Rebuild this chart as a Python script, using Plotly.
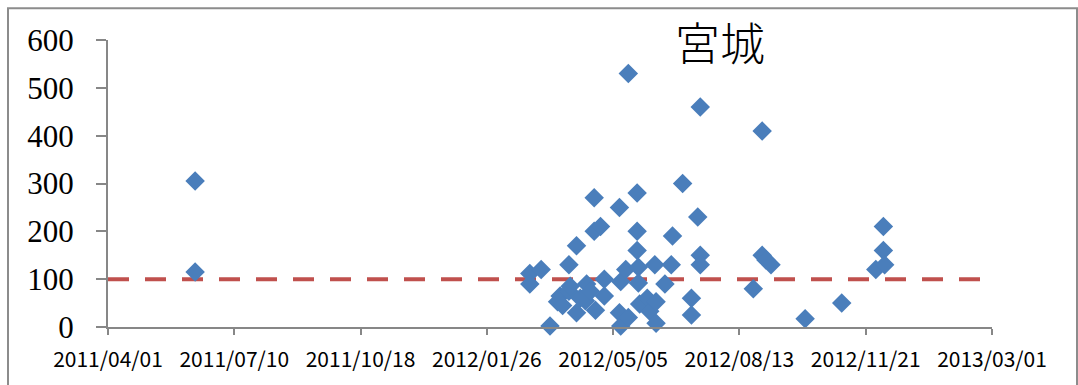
import plotly.graph_objects as go
from datetime import date, timedelta

# Sampling dates and measured values (Miyagi)
dates = [
    "2011-06-09", "2011-06-09",
    "2012-02-29", "2012-02-29", "2012-03-09", "2012-03-16", "2012-03-22",
    "2012-03-24", "2012-03-31", "2012-03-31", "2012-04-01", "2012-04-06",
    "2012-04-06", "2012-04-13", "2012-04-14", "2012-04-20", "2012-04-20",
    "2012-04-21", "2012-04-25", "2012-04-28", "2012-04-28", "2012-05-10",
    "2012-05-10", "2012-05-11", "2012-05-11", "2012-05-15", "2012-05-17",
    "2012-05-17", "2012-05-24", "2012-05-24", "2012-05-24", "2012-05-25",
    "2012-05-25", "2012-05-26", "2012-06-01", "2012-06-03", "2012-06-07",
    "2012-06-08", "2012-06-08", "2012-06-15", "2012-06-20", "2012-06-21",
    "2012-06-29", "2012-07-06", "2012-07-06", "2012-07-11", "2012-07-13",
    "2012-07-13", "2012-07-13", "2012-08-24", "2012-08-31", "2012-08-31",
    "2012-09-03", "2012-09-07", "2012-10-04", "2012-11-02", "2012-11-29",
    "2012-12-05", "2012-12-05", "2012-12-06",
    "2012-03-26", "2012-04-09", "2012-04-17",
]
values = [
    305, 115,
    112, 90, 120, 2, 53,
    65, 130, 75, 85, 170,
    30, 55, 90, 270, 200,
    35, 210, 100, 65, 250,
    30, 95, 2, 120, 530,
    20, 280, 200, 160, 125,
    92, 48, 60, 33, 130,
    53, 8, 90, 130, 190,
    300, 60, 25, 230, 150,
    130, 460, 80, 410, 150,
    140, 130, 17, 50, 120,
    210, 160, 130,
    45, 60, 75,
]

# Reference level
threshold = 100
threshold_span = ["2011-04-01", "2013-02-28"]

# Axis ticks: every 100 days from the start date
x_start = "2011-04-01"
x_end = "2013-03-01"
tick_step_days = 100
n_ticks = 8
start = date.fromisoformat(x_start)
tick_dates = [start + timedelta(days=tick_step_days * i) for i in range(n_ticks)]
tick_vals = [d.isoformat() for d in tick_dates]
tick_text = [d.strftime("%Y/%m/%d") for d in tick_dates]

y_ticks = [0, 100, 200, 300, 400, 500, 600]

title_text = "宮城"

fig = go.Figure()

fig.add_trace(go.Scatter(
    x=threshold_span,
    y=[threshold, threshold],
    mode="lines",
    line=dict(color="#C0504D", width=4, dash="21px,16px"),
    hoverinfo="skip",
    showlegend=False,
))

fig.add_trace(go.Scatter(
    x=dates,
    y=values,
    mode="markers",
    marker=dict(symbol="diamond", size=15, color="#4A7EBB", line=dict(width=0)),
    cliponaxis=False,
    showlegend=False,
))

axis_grey = "#878787"

fig.update_layout(
    width=1078,
    height=385,
    margin=dict(l=108, r=86, t=40, b=56),
    paper_bgcolor="white",
    plot_bgcolor="white",
    showlegend=False,
    xaxis=dict(
        range=[x_start, x_end],
        tickmode="array",
        tickvals=tick_vals,
        ticktext=tick_text,
        showgrid=False,
        zeroline=False,
        showline=True,
        linecolor=axis_grey,
        linewidth=2,
        ticks="outside",
        ticklen=6,
        tickwidth=2,
        tickcolor=axis_grey,
        ticklabelstandoff=7,
        tickfont=dict(family="Noto Sans CJK JP", size=21, color="black"),
    ),
    yaxis=dict(
        range=[0, 600],
        tickmode="array",
        tickvals=y_ticks,
        showgrid=False,
        zeroline=False,
        showline=True,
        linecolor=axis_grey,
        linewidth=2,
        ticks="outside",
        ticklen=10,
        tickwidth=2,
        tickcolor=axis_grey,
        ticklabelstandoff=16,
        tickfont=dict(family="Liberation Serif", size=31, color="black"),
    ),
    shapes=[
        dict(
            type="rect", xref="paper", yref="paper",
            x0=(8 - 108) / 884, x1=(1077 - 108) / 884,
            y0=-0.3, y1=1 + (40 - 8) / 289,
            line=dict(color="#8C8C8C", width=2),
            fillcolor="rgba(0,0,0,0)",
            layer="below",
        )
    ],
    annotations=[
        dict(
            text=title_text,
            xref="paper", yref="paper",
            x=(720 - 108) / 884, y=1 + (40 - 42) / 289,
            xanchor="center", yanchor="middle",
            showarrow=False,
            font=dict(family="Noto Sans CJK JP", size=45, color="black", weight=300),
        )
    ],
)

fig.write_html("out.html")
